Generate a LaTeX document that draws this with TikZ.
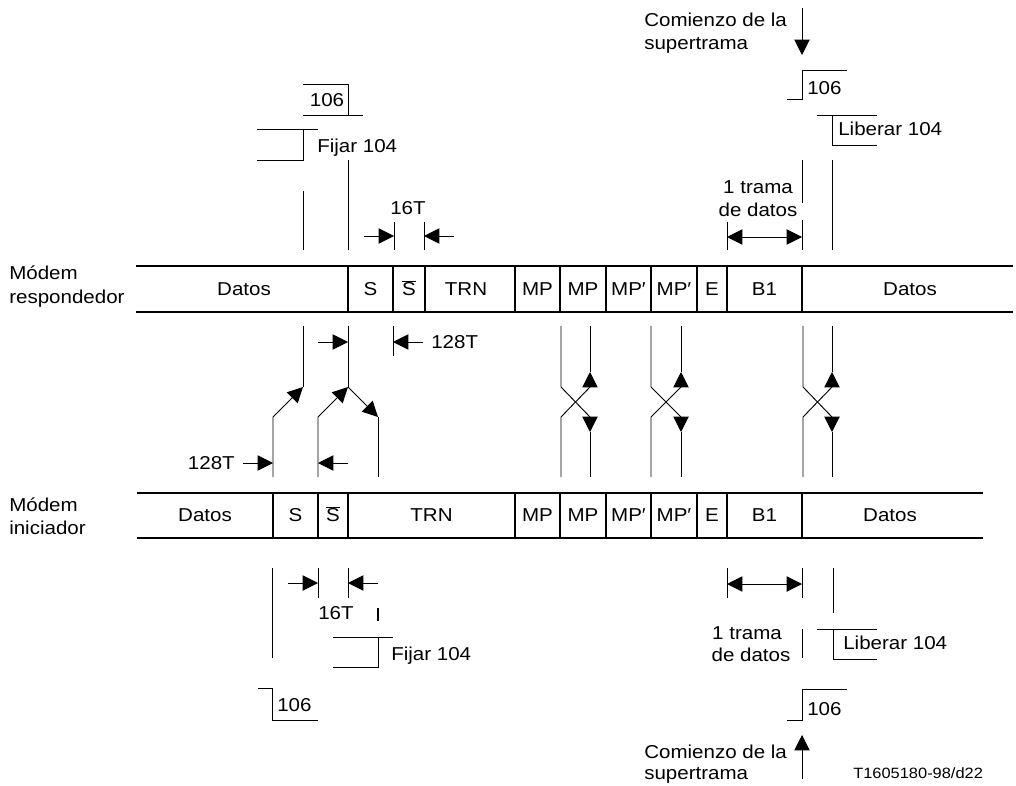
\documentclass[tikz,border=0pt]{standalone}
\usepackage{fontspec}
\setmainfont{Liberation Sans}[FakeStretch=1.1]
\usetikzlibrary{arrows.meta}
\begin{document}
\begin{tikzpicture}[x=0.75pt,y=-0.75pt,
  ln/.style={line width=0.7pt},
  bar/.style={line width=1.6pt},
  arr/.style={ln,-{Triangle[length=11.5pt,width=11.5pt]}},
  darr/.style={ln,{Triangle[length=11.5pt,width=11.5pt]}-{Triangle[length=11.5pt,width=11.5pt]}},
  lbl/.style={inner sep=0pt,text height=10pt,text depth=0pt,font=\fontsize{14}{17}\selectfont},
  small/.style={inner sep=0pt,text height=8pt,text depth=0pt,font=\fontsize{11.2}{13}\selectfont}]
\useasboundingbox (0,0) rectangle (1016,785);

% ---------- responder bar ----------
\draw[bar] (136,266) -- (1013,266) (136,312) -- (1013,312);
\foreach \x in {348,393,425,515,560,606,651,697,727,802} \draw[bar] (\x,266) -- (\x,312);
\node[lbl] (rD1) at (244,289) {Datos};
\node[lbl] (rS) at (370.5,289) {S};
\node[lbl] (rSb) at (409,289) {$\overline{\mbox{S}}$};
\node[lbl] (rT) at (466,289) {TRN};
\node[lbl] (rM1) at (537.5,289) {MP};
\node[lbl] (rM2) at (583,289) {MP};
\node[lbl] (rM3) at (628.5,289) {MP′};
\node[lbl] (rM4) at (674,289) {MP′};
\node[lbl] (rE) at (712,289) {E};
\node[lbl] (rB) at (764.5,289) {B1};
\node[lbl] (rD2) at (910,289) {Datos};
\node[lbl,anchor=west] (resp1) at (9,273) {Módem};
\node[lbl,anchor=west] (resp2) at (9,297) {respondedor};

% ---------- initiator bar ----------
\draw[bar] (137,493) -- (983,493) (137,538) -- (983,538);
\foreach \x in {273,318,348,515,560,606,651,697,727,802} \draw[bar] (\x,493) -- (\x,538);
\node[lbl] (iD1) at (205,515) {Datos};
\node[lbl] (iS) at (295.5,515) {S};
\node[lbl] (iSb) at (333,515) {$\overline{\mbox{S}}$};
\node[lbl] (iT) at (431.5,515) {TRN};
\node[lbl] (iM1) at (537.5,515) {MP};
\node[lbl] (iM2) at (583,515) {MP};
\node[lbl] (iM3) at (628.5,515) {MP′};
\node[lbl] (iM4) at (674,515) {MP′};
\node[lbl] (iE) at (712,515) {E};
\node[lbl] (iB) at (764.5,515) {B1};
\node[lbl] (iD2) at (890,515) {Datos};
\node[lbl,anchor=west] (ini1) at (9,505) {Módem};
\node[lbl,anchor=west] (ini2) at (9,528) {iniciador};

% ---------- top left: 106 / Fijar 104 ----------
\draw[ln] (303,84) -- (348,84) -- (348,115);
\draw[ln] (303,115) -- (363,115);
\node[lbl] (t106a) at (327,100) {106};
\draw[ln] (257,129) -- (318,129);
\draw[ln] (303,129) -- (303,160) -- (257,160);
\node[lbl,anchor=west] (tfij) at (317,146) {Fijar 104};
\draw[ln] (303,191) -- (303,250);
\draw[ln] (348,160) -- (348,250);
% 16T top
\draw[ln] (394,222) -- (394,250) (424,222) -- (424,250);
\draw[arr] (364,236) -- (394,236);
\draw[arr] (454,236) -- (424,236);
\node[lbl] (t16) at (408,208) {16T};

% ---------- top right ----------
\coordinate (csT) at (802,8);
\coordinate (ceT) at (802,55);
\draw[arr] (csT) -- (ceT);
\node[lbl,anchor=west] (com1) at (644,20) {Comienzo de la};
\node[lbl,anchor=west] (com2) at (644,43) {supertrama};
\draw[ln] (802,70) -- (847,70);
\draw[ln] (802,70) -- (802,99) -- (787,99);
\node[lbl,anchor=west] (t106b) at (807,88) {106};
\draw[ln] (817,115) -- (877,115);
\draw[ln] (832,115) -- (832,145) -- (877,145);
\node[lbl,anchor=west] (tlib) at (838,129) {Liberar 104};
\draw[ln] (802,160) -- (802,203);
\draw[ln] (832,160) -- (832,250);
\draw[ln] (727,222) -- (727,250) (802,220) -- (802,250);
\draw[darr] (727,237) -- (802,237);
\node[lbl] (tr1) at (758,187) {1 trama};
\node[lbl] (tr2) at (758,210) {de datos};

% ---------- middle left ----------
\draw[ln] (303,387) -- (303,326);
\draw[arr] (273,477) -- (273,417) -- (303,387);
\draw[ln] (348,387) -- (348,326);
\draw[arr] (318,477) -- (318,417) -- (348,387);
\draw[arr] (348,387) -- (378,417);
\draw[ln] (378,417) -- (378,477);
% 128T top
\draw[arr] (318,342) -- (348,342);
\draw[ln] (393,326) -- (393,356);
\draw[arr] (423,342) -- (393,342);
\node[lbl,anchor=west] (m128a) at (431,342) {128T};
% 128T bottom
\draw[arr] (243,463) -- (273,463);
\draw[arr] (348,463) -- (318,463);
\node[lbl,anchor=east] (m128b) at (235,463) {128T};

% ---------- crossings ----------
\foreach \a/\b in {561/590,651/681,803/832}{
  \draw[arr] (\a,326) -- (\a,387) -- (\b,417) -- (\b,432);
  \draw[ln] (\b,432) -- (\b,477);
  \draw[arr] (\a,477) -- (\a,417) -- (\b,387) -- (\b,372);
  \draw[ln] (\b,372) -- (\b,326);
}

% ---------- bottom left ----------
\draw[ln] (272,568) -- (272,658);
\draw[ln] (318,568) -- (318,598) (348,568) -- (348,598);
\draw[arr] (288,583) -- (318,583);
\draw[arr] (378,583) -- (348,583);
\node[lbl] (b16) at (336,613) {16T};
\draw[line width=1.6pt] (378,608) -- (378,621);
\draw[ln] (333,637) -- (393,637);
\draw[ln] (378,637) -- (378,667) -- (333,667);
\node[lbl,anchor=west] (bfij) at (391,654) {Fijar 104};
\draw[ln] (258,688) -- (272,688) -- (272,720) -- (318,720);
\node[lbl,anchor=west] (b106a) at (277,705) {106};

% ---------- bottom right ----------
\draw[ln] (727,568) -- (727,598) (802,568) -- (802,598);
\draw[darr] (727,584) -- (802,584);
\draw[ln] (833,568) -- (833,613);
\draw[ln] (802,629) -- (802,658);
\node[lbl] (br1) at (747,633) {1 trama};
\node[lbl] (br2) at (751,655) {de datos};
\draw[ln] (817,629) -- (877,629);
\draw[ln] (833,629) -- (833,659) -- (877,659);
\node[lbl,anchor=west] (blib) at (843,643) {Liberar 104};
\draw[ln] (802,689) -- (847,689);
\draw[ln] (802,689) -- (802,720) -- (787,720);
\node[lbl,anchor=west] (b106b) at (807,709) {106};
\coordinate (csB) at (802,779);
\coordinate (ceB) at (802,735);
\draw[arr] (csB) -- (ceB);
\node[lbl,anchor=west] (com3) at (644,752) {Comienzo de la};
\node[lbl,anchor=west] (com4) at (644,773) {supertrama};
\node[small,anchor=west] (ref) at (853,773) {T1605180-98/d22};
\end{tikzpicture}
\end{document}
